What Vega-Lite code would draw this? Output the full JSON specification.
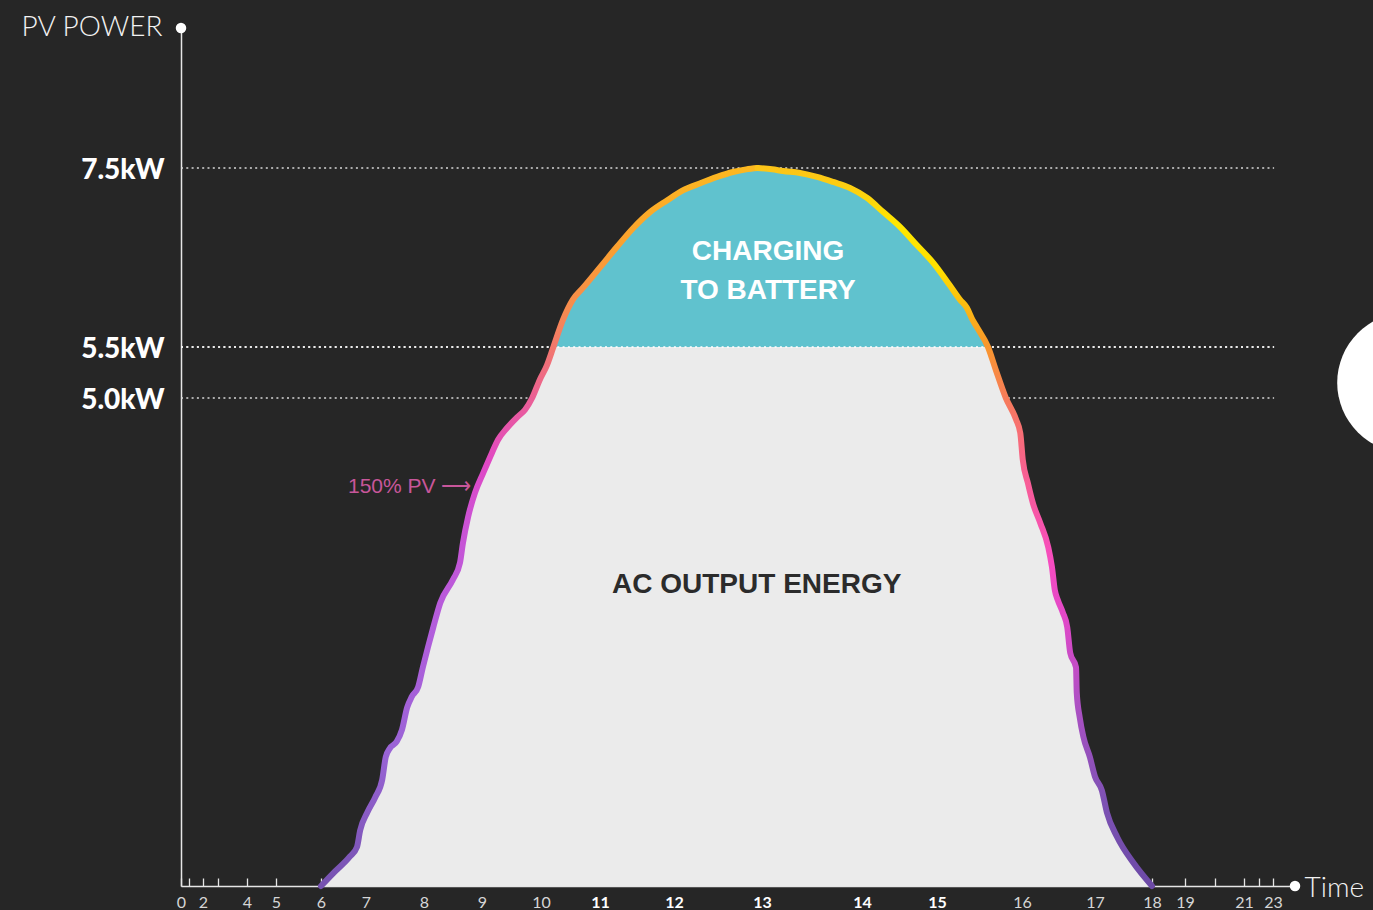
{
  "$schema": "https://vega.github.io/schema/vega-lite/v6.json",
  "autosize": {"type": "none"},
  "padding": {"left": 181, "top": 28, "right": 78, "bottom": 24},
  "width": 1114,
  "height": 858,
  "background": "#262626",
  "config": {"view": {"stroke": null}},
  "data": {"values": [
    {"h": 6.0, "pv": 0}, {"h": 6.27, "pv": 0.13}, {"h": 6.64, "pv": 0.30}, {"h": 6.80, "pv": 0.40},
    {"h": 6.87, "pv": 0.57}, {"h": 7.02, "pv": 0.75}, {"h": 7.16, "pv": 0.91}, {"h": 7.28, "pv": 1.09},
    {"h": 7.34, "pv": 1.32}, {"h": 7.41, "pv": 1.41}, {"h": 7.53, "pv": 1.48}, {"h": 7.62, "pv": 1.60},
    {"h": 7.71, "pv": 1.83}, {"h": 7.79, "pv": 1.94}, {"h": 7.90, "pv": 2.04}, {"h": 7.98, "pv": 2.24},
    {"h": 8.07, "pv": 2.45}, {"h": 8.16, "pv": 2.65}, {"h": 8.28, "pv": 2.90}, {"h": 8.50, "pv": 3.14},
    {"h": 8.62, "pv": 3.31}, {"h": 8.67, "pv": 3.51}, {"h": 8.76, "pv": 3.78}, {"h": 8.88, "pv": 4.03},
    {"h": 9.02, "pv": 4.23}, {"h": 9.17, "pv": 4.44}, {"h": 9.27, "pv": 4.57}, {"h": 9.42, "pv": 4.69},
    {"h": 9.59, "pv": 4.80}, {"h": 9.73, "pv": 4.88}, {"h": 9.85, "pv": 5.0}, {"h": 9.98, "pv": 5.18},
    {"h": 10.10, "pv": 5.32}, {"h": 10.21, "pv": 5.5}, {"h": 10.37, "pv": 5.80}, {"h": 10.54, "pv": 6.03},
    {"h": 10.71, "pv": 6.16}, {"h": 11.0, "pv": 6.39}, {"h": 11.23, "pv": 6.62}, {"h": 11.45, "pv": 6.83},
    {"h": 11.68, "pv": 7.01}, {"h": 11.91, "pv": 7.14}, {"h": 12.10, "pv": 7.25}, {"h": 12.30, "pv": 7.33},
    {"h": 12.49, "pv": 7.40}, {"h": 12.67, "pv": 7.455}, {"h": 12.82, "pv": 7.485}, {"h": 12.95, "pv": 7.5},
    {"h": 13.10, "pv": 7.485}, {"h": 13.21, "pv": 7.466}, {"h": 13.38, "pv": 7.444}, {"h": 13.55, "pv": 7.40},
    {"h": 13.71, "pv": 7.344}, {"h": 13.88, "pv": 7.277}, {"h": 14.07, "pv": 7.165}, {"h": 14.28, "pv": 7.01},
    {"h": 14.51, "pv": 6.84}, {"h": 14.73, "pv": 6.64}, {"h": 14.95, "pv": 6.44}, {"h": 15.15, "pv": 6.19},
    {"h": 15.27, "pv": 6.03}, {"h": 15.35, "pv": 5.94}, {"h": 15.42, "pv": 5.80}, {"h": 15.47, "pv": 5.72},
    {"h": 15.60, "pv": 5.5}, {"h": 15.69, "pv": 5.28}, {"h": 15.81, "pv": 5.0}, {"h": 15.93, "pv": 4.78},
    {"h": 15.98, "pv": 4.64}, {"h": 16.01, "pv": 4.37}, {"h": 16.08, "pv": 4.13}, {"h": 16.15, "pv": 3.92},
    {"h": 16.25, "pv": 3.72}, {"h": 16.36, "pv": 3.47}, {"h": 16.41, "pv": 3.27}, {"h": 16.45, "pv": 3.03},
    {"h": 16.49, "pv": 2.93}, {"h": 16.56, "pv": 2.80}, {"h": 16.62, "pv": 2.65}, {"h": 16.66, "pv": 2.39},
    {"h": 16.74, "pv": 2.24}, {"h": 16.75, "pv": 1.98}, {"h": 16.79, "pv": 1.73}, {"h": 16.84, "pv": 1.53},
    {"h": 16.93, "pv": 1.32}, {"h": 17.0, "pv": 1.12}, {"h": 17.12, "pv": 0.98}, {"h": 17.21, "pv": 0.75},
    {"h": 17.39, "pv": 0.50}, {"h": 17.67, "pv": 0.24}, {"h": 18.0, "pv": 0}
  ]},
  "encoding": {
    "x": {
      "field": "h", "type": "quantitative",
      "scale": {
        "domain": [0, 1, 2, 3, 4, 5, 6, 7, 8, 9, 10, 11, 12, 13, 14, 15, 16, 17, 18, 19, 20, 21, 22, 23, 24],
        "range": [0, 8, 22, 37, 66, 95, 140, 185, 243, 301, 360, 419, 493, 581, 681, 756, 841, 914, 971, 1004, 1034, 1063, 1078, 1092, 1114],
        "nice": false, "zero": false
      },
      "axis": {
        "values": [0, 1, 2, 3, 4, 5, 6, 7, 8, 9, 10, 11, 12, 13, 14, 15, 16, 17, 18, 19, 20, 21, 22, 23],
        "labelExpr": "indexof([1,3,20,22], datum.value) >= 0 ? '' : datum.label",
        "labelOverlap": false, "labelFlush": false,
        "labelFont": "Lato", "labelFontSize": 16, "labelPadding": 16,
        "labelColor": {"condition": {"test": "datum.value >= 11 && datum.value <= 15", "value": "#ffffff"}, "value": "#d6d6d6"},
        "labelFontWeight": {"condition": {"test": "datum.value >= 11 && datum.value <= 15", "value": "bold"}, "value": "normal"},
        "tickSize": -8, "tickColor": "#e6e6e6", "tickWidth": 1.3,
        "domainColor": "#e6e6e6", "domainWidth": 1.5,
        "grid": false, "zindex": 0,
        "title": "Time", "titleX": 1123, "titleY": 10, "titleAlign": "left", "titleBaseline": "alphabetic",
        "titleFont": "Lato", "titleFontWeight": 300, "titleFontSize": 28, "titleColor": "#f2f2f2"
      }
    },
    "y": {
      "field": "pv", "type": "quantitative",
      "scale": {"domain": [0, 5, 5.5, 7.5, 9], "range": [858, 370, 319, 140, 0], "nice": false, "zero": false},
      "axis": {
        "values": [5, 5.5, 7.5],
        "labelExpr": "format(datum.value, '.1f') + 'kW'",
        "ticks": false, "labelPadding": 17, "labelOffset": 2,
        "labelFont": "Lato", "labelFontWeight": 900, "labelFontSize": 28, "labelColor": "#ffffff",
        "domainColor": "#e6e6e6", "domainWidth": 1.5, "grid": false,
        "title": "PV POWER", "titleAngle": 0, "titleX": -19, "titleY": 7, "titleAlign": "right", "titleBaseline": "alphabetic",
        "titleFont": "Lato", "titleFontWeight": 300, "titleFontSize": 28, "titleColor": "#f2f2f2"
      }
    }
  },
  "layer": [
    {
      "data": {"values": [{"pv": 5.0, "h": 0, "h2": 23.05}, {"pv": 5.5, "h": 0, "h2": 23.05}, {"pv": 7.5, "h": 0, "h2": 23.05}]},
      "mark": {"type": "rule", "color": "#d8d8d8", "strokeDash": [2, 3.3], "strokeWidth": 1.3},
      "encoding": {"x2": {"field": "h2"}}
    },
    {
      "mark": {"type": "area", "interpolate": "monotone", "color": "#ebebeb"},
      "encoding": {"y2": {"datum": 0}}
    },
    {
      "transform": [{"filter": "datum.pv >= 5.5"}],
      "mark": {"type": "area", "interpolate": "monotone", "color": "#60c2ce"},
      "encoding": {"y2": {"datum": 5.5}}
    },
    {
      "data": {"values": [{"pv": 5.5, "h": 0, "h2": 23.05}]},
      "mark": {"type": "rule", "color": "#ffffff", "strokeDash": [2, 3.3], "strokeWidth": 1.3},
      "encoding": {"x2": {"field": "h2"}}
    },
    {
      "transform": [{"filter": "datum.h <= 12.95"}],
      "mark": {
        "type": "line", "interpolate": "monotone", "strokeWidth": 6, "strokeCap": "round",
        "stroke": {"gradient": "linear", "x1": 0, "y1": 1, "x2": 0, "y2": 0, "stops": [
          {"offset": 0, "color": "#7652b0"},
          {"offset": 0.19, "color": "#9a64d6"},
          {"offset": 0.37, "color": "#b45ddc"},
          {"offset": 0.51, "color": "#cc52d4"},
          {"offset": 0.59, "color": "#e048c4"},
          {"offset": 0.66, "color": "#e85aa0"},
          {"offset": 0.73, "color": "#f07078"},
          {"offset": 0.80, "color": "#f78a50"},
          {"offset": 0.89, "color": "#faa030"},
          {"offset": 1, "color": "#fcb820"}
        ]}
      }
    },
    {
      "transform": [{"filter": "datum.h >= 12.95"}],
      "mark": {
        "type": "line", "interpolate": "monotone", "strokeWidth": 6, "strokeCap": "round",
        "stroke": {"gradient": "linear", "x1": 0, "y1": 1, "x2": 0, "y2": 0, "stops": [
          {"offset": 0, "color": "#6c4aa6"},
          {"offset": 0.12, "color": "#7e52b4"},
          {"offset": 0.26, "color": "#b050c4"},
          {"offset": 0.37, "color": "#e048c8"},
          {"offset": 0.45, "color": "#f64cc0"},
          {"offset": 0.58, "color": "#f86090"},
          {"offset": 0.68, "color": "#f67c5a"},
          {"offset": 0.76, "color": "#f99a28"},
          {"offset": 0.81, "color": "#fcbc10"},
          {"offset": 0.86, "color": "#ffe000"},
          {"offset": 0.92, "color": "#ffe800"},
          {"offset": 0.97, "color": "#fdd010"},
          {"offset": 1, "color": "#fcc418"}
        ]}
      }
    },
    {
      "data": {"values": [{"h": 13.06, "pv": 6.56, "t": "CHARGING"}, {"h": 13.06, "pv": 6.13, "t": "TO BATTERY"}]},
      "mark": {"type": "text", "font": "Liberation Sans", "fontWeight": "bold", "fontSize": 28, "color": "#ffffff", "align": "center", "baseline": "middle"},
      "encoding": {"text": {"field": "t"}}
    },
    {
      "data": {"values": [{"h": 12.94, "pv": 3.08, "t": "AC OUTPUT ENERGY"}]},
      "mark": {"type": "text", "font": "Liberation Sans", "fontWeight": "bold", "fontSize": 28, "color": "#2b2b2b", "align": "center", "baseline": "middle"},
      "encoding": {"text": {"field": "t"}}
    },
    {
      "data": {"values": [{"h": 6.6, "pv": 4.09, "t": "150% PV ⟶"}]},
      "mark": {"type": "text", "font": "Liberation Sans", "fontSize": 21, "color": "#c8569a", "align": "left", "baseline": "middle"},
      "encoding": {"text": {"field": "t"}}
    },
    {
      "data": {"values": [{"h": 0, "pv": 9}, {"h": 24, "pv": 0}]},
      "mark": {"type": "point", "filled": true, "shape": "circle", "color": "#ffffff", "opacity": 1, "size": 110}
    },
    {
      "data": {"values": [{"h": 29.1, "pv": 5.15}]},
      "mark": {"type": "point", "filled": true, "shape": "circle", "color": "#ffffff", "opacity": 1, "size": 19600}
    }
  ]
}
